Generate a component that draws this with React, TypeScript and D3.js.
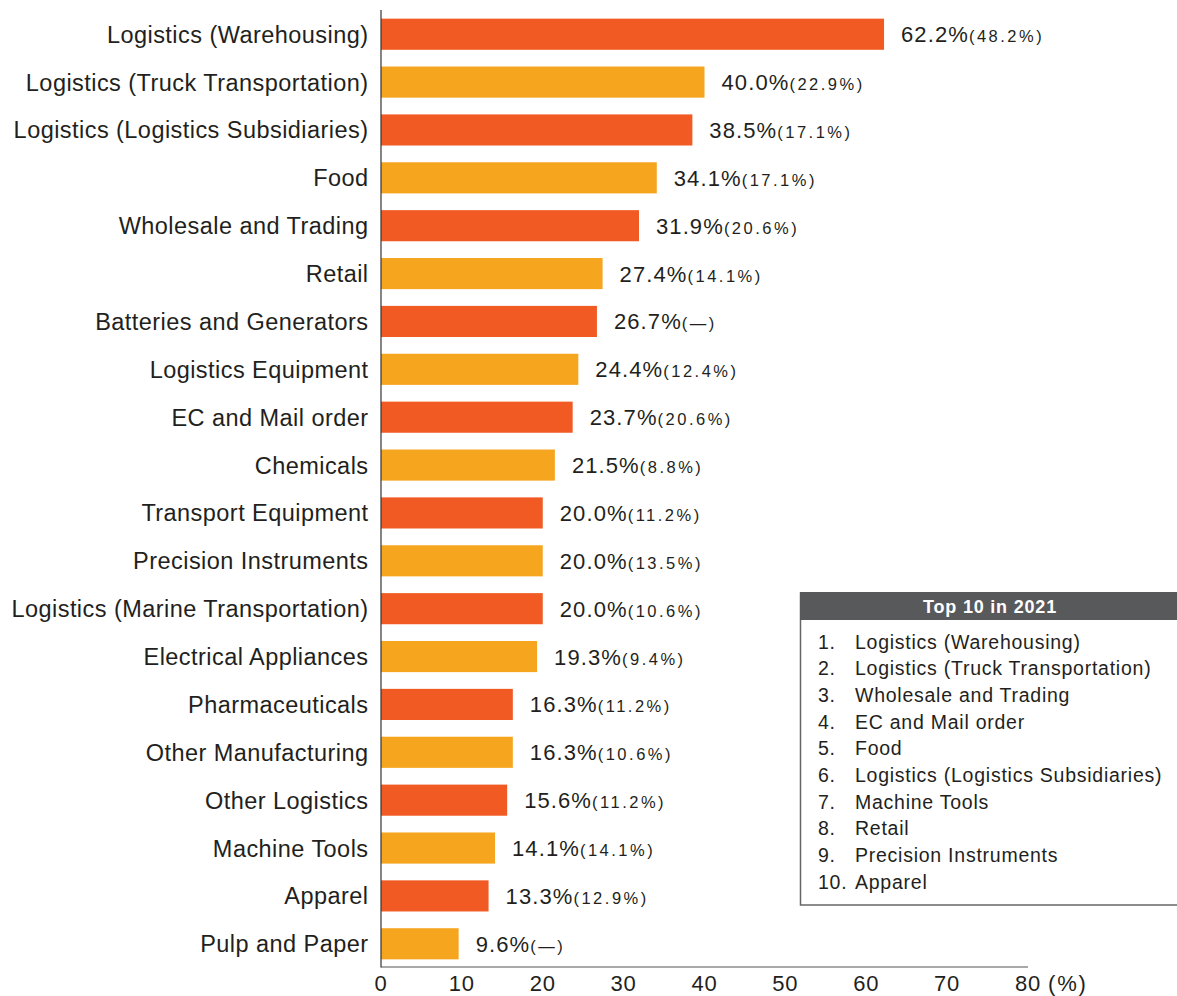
import React, { useEffect, useRef } from "react";
import * as d3 from "d3";

const categories = [
  "Logistics (Warehousing)",
  "Logistics (Truck Transportation)",
  "Logistics (Logistics Subsidiaries)",
  "Food",
  "Wholesale and Trading",
  "Retail",
  "Batteries and Generators",
  "Logistics Equipment",
  "EC and Mail order",
  "Chemicals",
  "Transport Equipment",
  "Precision Instruments",
  "Logistics (Marine Transportation)",
  "Electrical Appliances",
  "Pharmaceuticals",
  "Other Manufacturing",
  "Other Logistics",
  "Machine Tools",
  "Apparel",
  "Pulp and Paper",
];
const values2022 = [62.2, 40.0, 38.5, 34.1, 31.9, 27.4, 26.7, 24.4, 23.7, 21.5, 20.0, 20.0, 20.0, 19.3, 16.3, 16.3, 15.6, 14.1, 13.3, 9.6];
const values2021 = ["48.2%", "22.9%", "17.1%", "17.1%", "20.6%", "14.1%", "—", "12.4%", "20.6%", "8.8%", "11.2%", "13.5%", "10.6%", "9.4%", "11.2%", "10.6%", "11.2%", "14.1%", "12.9%", "—"];
const xTicks = [0, 10, 20, 30, 40, 50, 60, 70, 80];
const legendTitle = "Top 10 in 2021";
const top10 = [
  "Logistics (Warehousing)",
  "Logistics (Truck Transportation)",
  "Wholesale and Trading",
  "EC and Mail order",
  "Food",
  "Logistics (Logistics Subsidiaries)",
  "Machine Tools",
  "Retail",
  "Precision Instruments",
  "Apparel",
];

const COLORS = ["#F15A22", "#F6A51E"];
const FONT = "'Liberation Sans', Arial, sans-serif";
const TEXT = "#231F20";

export default function App() {
  const ref = useRef<SVGSVGElement>(null);
  useEffect(() => {
    const svg = d3.select(ref.current);
    svg.selectAll("*").remove();
    const x = d3.scaleLinear().domain([0, 80]).range([381, 1028]);
    const y = d3.scaleBand().domain(categories).range([11, 967]).paddingInner(0.35).paddingOuter(0.16);

    const g = svg.append("g");
    g.selectAll("rect.bar")
      .data(categories)
      .join("rect")
      .attr("x", x(0))
      .attr("y", (d) => y(d)!)
      .attr("width", (d, i) => x(values2022[i]) - x(0))
      .attr("height", y.bandwidth())
      .attr("fill", (d, i) => COLORS[i % 2]);

    // axes
    g.append("line").attr("x1", x(0)).attr("x2", x(0)).attr("y1", 10).attr("y2", 967.5).attr("stroke", "#333").attr("stroke-width", 1.2);
    g.append("line").attr("x1", x(0)).attr("x2", x(80)).attr("y1", 967).attr("y2", 967).attr("stroke", "#555").attr("stroke-width", 1.2);

    // category labels
    g.selectAll("text.cat")
      .data(categories)
      .join("text")
      .attr("x", 368.5)
      .attr("y", (d) => y(d)! + y.bandwidth() / 2 + 8.5)
      .attr("text-anchor", "end")
      .attr("font-family", FONT)
      .attr("font-size", 23.5)
      .attr("letter-spacing", 0.45)
      .attr("fill", TEXT)
      .text((d) => d);

    // value labels
    const vl = g.selectAll("text.val")
      .data(categories)
      .join("text")
      .attr("x", (d, i) => x(values2022[i]) + 17)
      .attr("y", (d) => y(d)! + y.bandwidth() / 2 + 8)
      .attr("font-family", FONT)
      .attr("fill", TEXT);
    vl.append("tspan").attr("font-size", 22).attr("letter-spacing", 1.1).text((d, i) => values2022[i].toFixed(1) + "%");
    vl.append("tspan")
      .attr("font-size", 16.5)
      .attr("letter-spacing", 2.5)
      .text((d, i) => "(" + values2021[i] + ")");

    // x tick labels
    g.selectAll("text.tick")
      .data(xTicks)
      .join("text")
      .attr("x", (d) => x(d))
      .attr("y", 991)
      .attr("text-anchor", "middle")
      .attr("font-family", FONT)
      .attr("font-size", 22)
      .attr("letter-spacing", 0.8)
      .attr("fill", TEXT)
      .text((d) => String(d));
    g.append("text")
      .attr("x", x(80) + 20)
      .attr("y", 991)
      .attr("font-family", FONT)
      .attr("font-size", 22)
      .attr("letter-spacing", 1.8)
      .attr("fill", TEXT)
      .text("(%)");

    // legend
    const lg = svg.append("g");
    lg.append("rect").attr("x", 800.5).attr("y", 593).attr("width", 400).attr("height", 312).attr("fill", "#fff").attr("stroke", "#666").attr("stroke-width", 1.5);
    lg.append("rect").attr("x", 800).attr("y", 592).attr("width", 400).attr("height", 28).attr("fill", "#58595B");
    lg.append("text")
      .attr("x", 990)
      .attr("y", 613)
      .attr("text-anchor", "middle")
      .attr("font-family", FONT)
      .attr("font-weight", "bold")
      .attr("font-size", 18)
      .attr("letter-spacing", 0.8)
      .attr("fill", "#fff")
      .text(legendTitle);
    const items = lg.selectAll("g.item").data(top10).join("g");
    items.append("text")
      .attr("x", 818)
      .attr("y", (d, i) => 648.5 + i * 26.7)
      .attr("font-family", FONT)
      .attr("font-size", 19.5)
      .attr("letter-spacing", 0.75)
      .attr("fill", TEXT)
      .text((d, i) => `${i + 1}.`);
    items.append("text")
      .attr("x", 855)
      .attr("y", (d, i) => 648.5 + i * 26.7)
      .attr("font-family", FONT)
      .attr("font-size", 19.5)
      .attr("letter-spacing", 0.75)
      .attr("fill", TEXT)
      .text((d) => d);
  }, []);
  return (
    <svg
      ref={ref}
      width={1177}
      height={996}
      style={{ position: "absolute", left: 0, top: 0, background: "#fff" }}
    />
  );
}
